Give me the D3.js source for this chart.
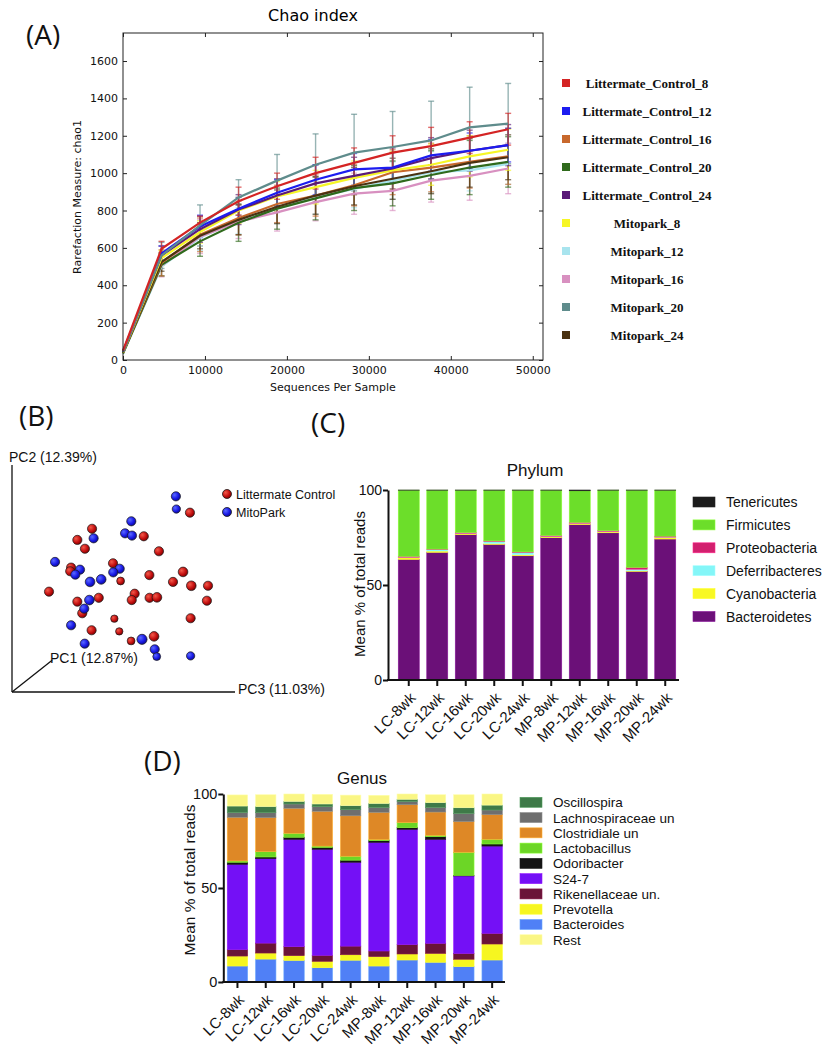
<!DOCTYPE html>
<html><head><meta charset="utf-8">
<script src="https://cdn.jsdelivr.net/npm/d3@7"></script>
<style>body{margin:0;background:#fff} svg{display:block}</style>
</head><body>
<svg id="c" width="830" height="1050"></svg>
<script>
// ---------------- Panel A data: rarefaction (chao1) ----------------
const seqDepth = [0,4700,9400,14100,18800,23500,28200,32900,37600,42300,47000];
const rareGroups = ["Littermate_Control_8","Littermate_Control_12","Littermate_Control_16","Littermate_Control_20","Littermate_Control_24","Mitopark_8","Mitopark_12","Mitopark_16","Mitopark_20","Mitopark_24"];
const rareColors = ["#d42424","#1c1cf0","#c8682c","#2f6a1c","#5a1a78","#f6f626","#a8e4ee","#d890c0","#5f8c8c","#4a3212"];
const chaoLC8  = [50,595,735,850,930,1000,1055,1110,1145,1190,1235];
const chaoLC12 = [45,570,715,810,895,965,1020,1030,1095,1120,1150];
const chaoLC16 = [40,520,670,760,835,880,935,1005,1030,1060,1090];
const chaoLC20 = [35,510,635,735,810,865,920,945,990,1030,1060];
const chaoLC24 = [45,560,700,805,880,945,985,1025,1080,1120,1150];
const chaoMP8  = [40,545,685,800,875,925,975,1015,1045,1090,1125];
const chaoMP12 = [35,500,655,745,810,870,915,960,1005,1015,1050];
const chaoMP16 = [40,505,660,740,790,845,890,905,960,985,1025];
const chaoMP20 = [45,560,720,870,960,1045,1110,1140,1175,1245,1265];
const chaoMP24 = [40,525,665,750,820,880,930,970,1010,1055,1085];
const errLC8  = [5,40,35,75,70,85,80,90,100,85,85];
const errLC12 = [5,40,60,60,70,80,85,80,85,95,90];
const errLC16 = [5,70,90,90,100,110,110,120,130,140,150];
const errLC20 = [5,60,80,100,110,115,120,120,130,145,135];
const errLC24 = [5,50,70,80,90,100,100,110,110,110,110];
const errMP8  = [5,40,60,70,80,90,90,100,110,110,110];
const errMP12 = [5,50,70,70,80,90,100,100,110,110,110];
const errMP16 = [5,60,90,90,100,100,110,105,115,130,135];
const errMP20 = [5,70,110,95,140,165,205,190,210,215,215];
const errMP24 = [5,50,70,80,90,100,100,110,120,130,120];
const chaoTicksY = [0,200,400,600,800,1000,1200,1400,1600];
const chaoTicksX = [0,10000,20000,30000,40000,50000];

// ---------------- Panel B data: PCoA projection (projected units) ----------------
const pcoaLC = [[79.8,79.0,1],[35.9,71.9,1],[29.3,67.0,1],[32.7,63.1,1],[59.1,68.6,1],[65.9,62.0,1],[45.3,56.7,1],[26.5,54.8,1],[26.1,53.2,1],[48.7,48.9,0.85],[61.6,51.5,1],[76.7,52.9,1.05],[72.2,48.5,1],[80.4,46.8,1.05],[87.9,46.8,1],[16.6,44.2,1],[55.0,43.3,1],[53.7,40.5,1],[61.7,41.5,1],[65.0,41.7,1.05],[38.9,41.5,1],[29.3,39.8,1],[87.4,40.2,1],[31.5,34.7,1],[45.9,32.3,0.8],[80.1,32.5,1],[35.7,27.2,1],[48.1,26.7,0.8],[53.4,22.5,0.85],[63.7,24.5,1.05]];
const pcoaMP = [[73.5,86.2,1],[73.7,80.6,0.9],[53.5,75.2,1],[50.7,69.9,1],[53.8,68.9,1],[36.6,67.7,1],[19.3,57.3,1],[30.5,53.9,1],[28.4,51.7,1],[48.3,54.3,1],[45.4,52.7,1],[40.0,49.6,1.05],[35.0,48.5,1.05],[34.7,40.5,1.05],[32.4,36.7,1],[26.5,29.4,1],[32.6,21.3,1],[58.3,23.2,1.1],[64.0,18.8,1],[64.9,15.6,0.85],[80.1,15.9,0.9]];
const pcoaGroups = ["Littermate Control","MitoPark"];
const pcoaAxes = ["PC2 (12.39%)","PC1 (12.87%)","PC3 (11.03%)"];

// ---------------- Panel C data: phylum ----------------
const samples = ["LC-8wk","LC-12wk","LC-16wk","LC-20wk","LC-24wk","MP-8wk","MP-12wk","MP-16wk","MP-20wk","MP-24wk"];
const phylumNames = ["Bacteroidetes","Cyanobacteria","Deferribacteres","Proteobacteria","Firmicutes","Tenericutes"];
const phylumColors = ["#6b1078","#f8f824","#84f6f8","#d2206e","#6cde2a","#1c1c1c"];
const phyBacteroidetes   = [63.5,67.2,76.5,71.4,65.4,74.9,81.8,77.5,57.2,74.2];
const phyCyanobacteria   = [0.9,0.7,0.5,0.5,0.5,0.5,0.5,0.5,0.3,0.8];
const phyDeferribacteres = [0.2,0.7,0.2,1.0,1.2,0.2,0.2,0.2,0.8,0.2];
const phyProteobacteria  = [0.5,0.3,0.4,0.3,0.3,0.4,0.5,0.4,1.0,0.5];
const phyFirmicutes      = [34.8,31.0,22.3,26.7,32.5,23.9,16.6,21.3,40.6,24.2];
const phyTenericutes     = [0.1,0.1,0.1,0.1,0.1,0.1,0.4,0.1,0.1,0.1];

// ---------------- Panel D data: genus ----------------
const genusNames = ["Bacteroides","Prevotella","Rikenellaceae un.","S24-7","Odoribacter","Lactobacillus","Clostridiale un","Lachnospiraceae un","Oscillospira","Rest"];
const genusColors = ["#5080f6","#f6f620","#6a1438","#7410f6","#141414","#6cd626","#de8826","#6e6e6e","#3e7a48","#faf684"];
const genBacteroides = [8.5,12.2,11.5,7.6,11.6,8.5,11.7,10.5,8.2,11.7];
const genPrevotella  = [5.3,3.2,2.5,3.4,2.9,5.0,3.2,4.7,3.9,8.5];
const genRikenella   = [3.4,5.3,4.8,3.2,4.6,3.0,5.0,5.4,3.1,5.7];
const genS247        = [45.4,44.9,57.1,56.4,44.6,57.8,61.3,55.3,41.2,46.4];
const genOdoribacter = [1.1,0.9,1.1,1.0,1.1,0.9,0.9,1.4,0.3,1.1];
const genLactobac    = [0.7,2.8,2.1,0.7,2.1,0.5,2.7,0.7,12.3,2.5];
const genClostrid    = [23.2,18.1,13.3,18.5,21.5,14.5,9.5,12.4,16.3,13.1];
const genLachno      = [2.6,2.7,2.3,2.5,3.3,2.7,1.8,2.5,4.4,2.5];
const genOscillo     = [3.4,3.2,1.4,1.4,2.1,2.1,1.1,2.5,3.0,2.6];
const genRest        = [5.9,6.3,3.9,5.1,5.6,4.3,2.8,4.2,6.9,5.9];
const pctTicks = [0,50,100];

const svg = d3.select("#c");
const SANS = "'Liberation Sans', Arial, sans-serif";
const VERA = "'DejaVu Sans', sans-serif";

function panelLabel(t,x,y){
  svg.append("text").attr("x",x).attr("y",y).text(t)
    .attr("font-family","'Open Sans', 'Liberation Sans', sans-serif").attr("font-size",28).attr("fill","#111");
}

// ================= Panel A =================
(function(){
  const chao = [chaoLC8,chaoLC12,chaoLC16,chaoLC20,chaoLC24,chaoMP8,chaoMP12,chaoMP16,chaoMP20,chaoMP24];
  const errs = [errLC8,errLC12,errLC16,errLC20,errLC24,errMP8,errMP12,errMP16,errMP20,errMP24];
  const x = d3.scaleLinear().domain([0,51250]).range([123,543]);
  const y = d3.scaleLinear().domain([0,1750]).range([360,33]);
  const g = svg.append("g");
  panelLabel("(A)",26,45);
  g.append("text").attr("x",313).attr("y",21).attr("text-anchor","middle")
    .attr("font-family",VERA).attr("font-size",16).text("Chao index");
  const fmt = d3.format("d");
  const ax = g.append("g").attr("font-family",VERA);
  const yl = ax.append("g").attr("transform","translate(123,0)")
    .call(d3.axisLeft(y).tickValues(chaoTicksY).tickFormat(fmt).tickSize(-4).tickPadding(5).tickSizeOuter(0));
  const yr = ax.append("g").attr("transform","translate(543,0)")
    .call(d3.axisRight(y).tickValues(chaoTicksY).tickSize(-4).tickFormat("").tickSizeOuter(0));
  const xb = ax.append("g").attr("transform","translate(0,360)")
    .call(d3.axisBottom(x).tickValues(chaoTicksX).tickFormat(fmt).tickSize(-4).tickPadding(6).tickSizeOuter(0));
  const xt = ax.append("g").attr("transform","translate(0,33)")
    .call(d3.axisTop(x).tickValues(chaoTicksX).tickSize(-4).tickFormat("").tickSizeOuter(0));
  [yl,yr,xb,xt].forEach(a=>{a.select(".domain").remove(); a.selectAll("text").attr("font-size",11).attr("fill","#111").attr("font-family",VERA);
    a.selectAll("line").attr("stroke","#222");});
  const line = d3.line().x((d,i)=>x(seqDepth[i])).y(d=>y(d));
  const order = [6,7,3,2,9,5,4,1,8,0];
  order.forEach(k=>{
    const col = rareColors[k];
    const eg = g.append("g").attr("stroke",col).attr("stroke-opacity",0.65).attr("stroke-width",1.4);
    chao[k].forEach((v,i)=>{
      if(i===0) return;
      const cx = x(seqDepth[i]), lo=y(v-errs[k][i]), hi=y(v+errs[k][i]);
      eg.append("line").attr("x1",cx).attr("x2",cx).attr("y1",lo).attr("y2",hi);
      eg.append("line").attr("x1",cx-3).attr("x2",cx+3).attr("y1",lo).attr("y2",lo);
      eg.append("line").attr("x1",cx-3).attr("x2",cx+3).attr("y1",hi).attr("y2",hi);
    });
  });
  order.forEach(k=>{
    g.append("path").datum(chao[k]).attr("d",line).attr("fill","none")
      .attr("stroke",rareColors[k]).attr("stroke-width",2.2);
  });
  g.append("rect").attr("x",123).attr("y",33).attr("width",420).attr("height",327)
    .attr("fill","none").attr("stroke","#222").attr("stroke-width",1);
  g.append("text").attr("x",333).attr("y",391).attr("text-anchor","middle")
    .attr("font-family",VERA).attr("font-size",11).attr("fill","#111").text("Sequences Per Sample");
  g.append("text").attr("transform","translate(81,197) rotate(-90)").attr("text-anchor","middle")
    .attr("font-family",VERA).attr("font-size",11).attr("fill","#111").text("Rarefaction Measure: chao1");
  const ly = d3.scalePoint().domain(rareGroups).range([83,335]);
  rareGroups.forEach((n,k)=>{
    g.append("rect").attr("x",562).attr("y",ly(n)-4).attr("width",8).attr("height",8).attr("fill",rareColors[k]);
    g.append("text").attr("x",647).attr("y",ly(n)+4.5).attr("text-anchor","middle")
      .attr("font-family","'Liberation Serif', 'Times New Roman', serif").attr("font-weight","bold")
      .attr("font-size",13).attr("fill","#111").text(n);
  });
})();

// ================= Panel B =================
(function(){
  const g = svg.append("g");
  panelLabel("(B)",19,426);
  const defs = svg.append("defs");
  const grads = [["gR","#f25a4a","#c41010","#7a0000"],["gB","#5a6aff","#1a1ae6","#0a0a90"]];
  grads.forEach(([id,a,b,c])=>{
    const rg = defs.append("radialGradient").attr("id",id).attr("cx","35%").attr("cy","35%").attr("r","70%");
    rg.append("stop").attr("offset","0%").attr("stop-color",a);
    rg.append("stop").attr("offset","60%").attr("stop-color",b);
    rg.append("stop").attr("offset","100%").attr("stop-color",c);
  });
  const px = d3.scaleLinear().domain([0,100]).range([12,235]);
  const py = d3.scaleLinear().domain([0,100]).range([692,465]);
  g.append("line").attr("x1",px(0)).attr("y1",py(100)).attr("x2",px(0)).attr("y2",py(0)).attr("stroke","#111").attr("stroke-width",1.3);
  g.append("line").attr("x1",px(0)).attr("y1",py(0)).attr("x2",px(100)).attr("y2",py(0)).attr("stroke","#111").attr("stroke-width",1.3);
  g.append("line").attr("x1",px(0)).attr("y1",py(0)).attr("x2",px(18)).attr("y2",py(14)).attr("stroke","#111").attr("stroke-width",1.3);
  const tf = {"font-family":"'Liberation Sans', sans-serif","font-size":14,"fill":"#111"};
  const t1 = g.append("text").attr("x",9).attr("y",462).text(pcoaAxes[0]);
  const t2 = g.append("text").attr("x",50).attr("y",663).text(pcoaAxes[1]);
  const t3 = g.append("text").attr("x",238).attr("y",694).text(pcoaAxes[2]);
  [t1,t2,t3].forEach(t=>Object.entries(tf).forEach(([k,v])=>t.attr(k,v)));
  const pts = pcoaLC.map(d=>({d,grp:0})).concat(pcoaMP.map(d=>({d,grp:1})));
  g.selectAll("circle.p").data(pts).enter().append("circle")
    .attr("cx",p=>px(p.d[0])).attr("cy",p=>py(p.d[1])).attr("r",p=>4.6*p.d[2])
    .attr("fill",p=>p.grp===0?"url(#gR)":"url(#gB)").attr("stroke","#1a1a1a").attr("stroke-width",0.7);
  pcoaGroups.forEach((n,k)=>{
    const yy = 494 + k*18;
    g.append("circle").attr("cx",227).attr("cy",yy).attr("r",4.5)
      .attr("fill",k===0?"url(#gR)":"url(#gB)").attr("stroke","#1a1a1a").attr("stroke-width",0.8);
    g.append("text").attr("x",236).attr("y",yy+4.5).attr("font-family","'Liberation Sans', sans-serif")
      .attr("font-size",12.5).attr("fill","#111").text(n);
  });
})();

// ================= stacked bar helper =================
function stackedPanel(opts){
  const g = svg.append("g");
  const x = d3.scaleBand().domain(samples).range(opts.xr).paddingInner(opts.pi).paddingOuter(opts.po);
  const y = d3.scaleLinear().domain([0,100]).range([opts.y0,opts.y100]);
  const rows = samples.map((s,i)=>{const o={sample:s}; opts.names.forEach((n,k)=>o[n]=opts.series[k][i]); return o;});
  const stack = d3.stack().keys(opts.names)(rows);
  stack.forEach((layer,k)=>{
    const col = opts.colors[k];
    g.append("g").selectAll("rect").data(layer).enter().append("rect")
      .attr("x",d=>x(d.data.sample)).attr("width",x.bandwidth())
      .attr("y",d=>y(d[1])).attr("height",d=>Math.max(0,y(d[0])-y(d[1])))
      .attr("fill",col).attr("stroke",d3.color(col).brighter(0.7)).attr("stroke-width",0.6);
  });
  const ya = g.append("g").attr("transform",`translate(${opts.axX},0)`)
    .call(d3.axisLeft(y).tickValues(pctTicks).tickSize(5).tickPadding(1).tickSizeOuter(0));
  ya.select(".domain").attr("stroke","#111").attr("stroke-width",2);
  ya.selectAll("line").attr("stroke","#111").attr("stroke-width",2);
  ya.selectAll("text").attr("font-family",SANS).attr("font-size",opts.tickFs).attr("fill","#111");
  const xa = g.append("g").attr("transform",`translate(0,${opts.y0})`)
    .call(d3.axisBottom(x).tickSize(6).tickSizeOuter(0));
  xa.select(".domain").remove();
  xa.selectAll("line").attr("stroke","#111").attr("stroke-width",2);
  xa.selectAll("text").attr("font-family",SANS).attr("font-size",opts.xFs).attr("fill","#111")
    .attr("text-anchor","end").attr("dy","0.35em").attr("y",0)
    .attr("transform","translate(4,15) rotate(-45)");
  g.append("line").attr("x1",opts.axX-1).attr("x2",opts.xEnd).attr("y1",opts.y0).attr("y2",opts.y0)
    .attr("stroke","#111").attr("stroke-width",2);
  g.append("text").attr("x",opts.titleX).attr("y",opts.titleY).attr("text-anchor","middle")
    .attr("font-family",SANS).attr("font-size",17).attr("fill","#111").text(opts.title);
  g.append("text").attr("transform",`translate(${opts.ylabX},${opts.ylabY}) rotate(-90)`).attr("text-anchor","middle")
    .attr("font-family",SANS).attr("font-size",opts.ylabFs).attr("fill","#111").text("Mean % of total reads");
  opts.legendOrder.forEach((k,j)=>{
    const cy = opts.legY0 + j*opts.legStep;
    g.append("rect").attr("x",opts.legX).attr("y",cy-5).attr("width",22).attr("height",10)
      .attr("fill",opts.colors[k]).attr("stroke",d3.color(opts.colors[k]).brighter(0.7)).attr("stroke-width",0.6);
    g.append("text").attr("x",opts.legX+33).attr("y",cy+5).attr("font-family",SANS)
      .attr("font-size",opts.legFs).attr("fill","#111").text(opts.names[k]);
  });
}

// ================= Panel C =================
panelLabel("(C)",311,433);
stackedPanel({
  names: phylumNames, colors: phylumColors,
  series: [phyBacteroidetes,phyCyanobacteria,phyDeferribacteres,phyProteobacteria,phyFirmicutes,phyTenericutes],
  xr:[388,686], pi:0.263, po:0.36, y0:680, y100:490, axX:388, xEnd:679,
  tickFs:14, xFs:15, title:"Phylum", titleX:535, titleY:476, ylabX:365, ylabY:584, ylabFs:15,
  legendOrder:[5,4,3,2,1,0], legX:693, legY0:502, legStep:22.9, legFs:14
});

// ================= Panel D =================
panelLabel("(D)",144,771);
stackedPanel({
  names: genusNames, colors: genusColors,
  series: [genBacteroides,genPrevotella,genRikenella,genS247,genOdoribacter,genLactobac,genClostrid,genLachno,genOscillo,genRest],
  xr:[223.3,506.3], pi:0.28, po:0.14, y0:982, y100:794, axX:223.3, xEnd:505,
  tickFs:14.5, xFs:15, title:"Genus", titleX:362, titleY:784, ylabX:195, ylabY:880, ylabFs:15.5,
  legendOrder:[8,7,6,5,4,3,2,1,0,9], legX:520, legY0:802.3, legStep:15.27, legFs:13.5
});
</script>
</body></html>
